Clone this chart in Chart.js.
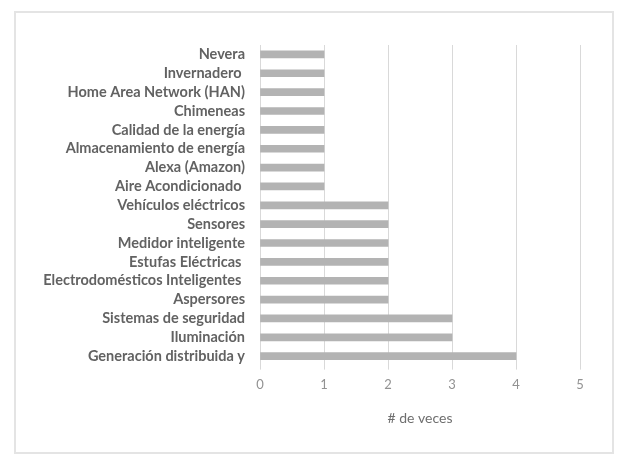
<!DOCTYPE html>
<html>
<head>
<meta charset="utf-8">
<script src="https://cdn.jsdelivr.net/npm/chart.js@4"></script>
<style>
    body { margin: 0; background: #fff; }
    #wrap { position: relative; width: 619px; height: 456px; }
    #frame { position: absolute; left: 14px; top: 11px; width: 596px; height: 439px; border: 2px solid #e4e4e4; }
    canvas { position: absolute; left: 0; top: 0; }
</style>
</head>
<body>
<div id="wrap">
    <div id="frame"></div>
    <canvas id="usoChart" width="619" height="456"></canvas>
</div>
<script>
const categorias = [
    'Nevera', 'Invernadero ', 'Home Area Network (HAN)', 'Chimeneas',
    'Calidad de la energía', 'Almacenamiento de energía', 'Alexa (Amazon)',
    'Aire Acondicionado ', 'Vehículos eléctricos', 'Sensores', 'Medidor inteligente',
    'Estufas Eléctricas ', 'Electrodomésticos Inteligentes ', 'Aspersores',
    'Sistemas de seguridad', 'Iluminación', 'Generación distribuida y'
];
const veces = [1, 1, 1, 1, 1, 1, 1, 1, 2, 2, 2, 2, 2, 2, 3, 3, 4];
const ejeX = { min: 0, max: 5, paso: 1 };

const ctx = document.getElementById('usoChart').getContext('2d');
new Chart(ctx, {
    type: 'bar',
    data: {
        labels: categorias,
        datasets: [{ data: veces, backgroundColor: '#b3b3b3', barThickness: 7 }]
    },
    options: {
        indexAxis: 'y',
        responsive: false,
        animation: false,
        layout: { padding: { top: 45, right: 39, bottom: 29, left: 0 } },
        plugins: { legend: { display: false }, tooltip: { enabled: false } },
        scales: {
            x: {
                min: ejeX.min, max: ejeX.max,
                ticks: { stepSize: ejeX.paso, padding: 7, color: '#929292', font: { family: 'Lato', size: 13 } },
                grid: { color: '#d9d9d9', tickLength: 4 },
                border: { display: false },
                title: { display: true, text: '# de veces', color: '#6e6e6e', font: { family: 'Lato', size: 14 }, padding: { top: 11, bottom: 0 } }
            },
            y: {
                ticks: { padding: 7, color: '#626262', font: { family: 'Lato', size: 14.5, weight: 'bold' }, autoSkip: false },
                grid: { display: false },
                border: { display: false },
                afterFit: scale => { scale.width = 260; }
            }
        }
    }
});
</script>
</body>
</html>
